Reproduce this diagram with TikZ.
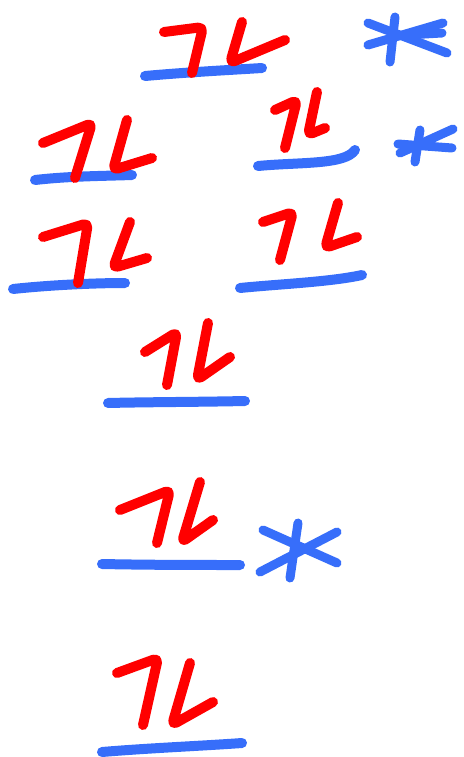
\documentclass[tikz,border=0pt]{standalone}
\definecolor{penblue}{RGB}{55,110,250}
\definecolor{penred}{RGB}{255,0,0}
\tikzset{
  orb/.style={draw=penblue,line width=10pt,line cap=round,line join=round},
  spin/.style={draw=penred,line width=10pt,line cap=round,line join=round,rounded corners=5pt},
  starline/.style={draw=penblue,line width=9pt,line cap=round,line join=round}
}
\begin{document}
\begin{tikzpicture}[x=1pt,y=-1pt]
\useasboundingbox (0,0) rectangle (463,757);
% row 1 (top)
\draw[orb] (145,76) .. controls (190,72) and (230,70) .. (262,68);
\draw[spin] (164,32) -- (203,27) -- (192,73);
\draw[spin] (242,22) -- (230,63) -- (285,40);
\draw[starline] (395,17) -- (390,62);
\draw[starline] (368,23) -- (447,53);
\draw[starline] (368,45) -- (443,23);
\draw[starline] (407,35) -- (442,33);
% row 2 right
\draw[orb] (258,166) .. controls (300,162) and (345,165) .. (355,150);
\draw[spin] (275,110) -- (297,100) -- (285,148);
\draw[spin] (317,92) -- (308,135) -- (325,128);
\draw[starline] (420,130) -- (415,162);
\draw[starline] (400,153) -- (453,129);
\draw[starline] (398,144) -- (452,148);
% row 2 left
\draw[orb] (35,180) .. controls (70,176) and (105,176) .. (132,175);
\draw[spin] (43,143) -- (92,123) -- (75,178);
\draw[spin] (127,120) -- (113,170) -- (152,158);
% row 3 left
\draw[orb] (13,289) .. controls (50,285) and (95,283) .. (125,283);
\draw[spin] (43,237) -- (88,223) -- (78,283);
\draw[spin] (130,222) -- (113,268) -- (147,258);
% row 3 right
\draw[orb] (240,288) .. controls (280,284) and (330,282) .. (362,275);
\draw[spin] (263,222) -- (293,212) -- (280,260);
\draw[spin] (338,203) -- (325,248) -- (357,237);
% row 4
\draw[orb] (108,403) .. controls (150,402) and (200,402) .. (245,401);
\draw[spin] (145,352) -- (177,332) -- (167,385);
\draw[spin] (208,323) -- (197,380) -- (230,357);
% row 5
\draw[orb] (102,564) .. controls (150,565) and (200,565) .. (240,565);
\draw[spin] (120,510) -- (170,490) -- (157,543);
\draw[spin] (200,482) -- (182,542) -- (213,520);
\draw[starline] (298,523) -- (290,578);
\draw[starline] (263,530) -- (337,563);
\draw[starline] (260,572) -- (337,532);
% row 6
\draw[orb] (102,752) .. controls (150,748) and (200,746) .. (242,743);
\draw[spin] (117,673) -- (158,658) -- (143,725);
\draw[spin] (190,663) -- (172,725) -- (213,702);
\end{tikzpicture}
\end{document}
